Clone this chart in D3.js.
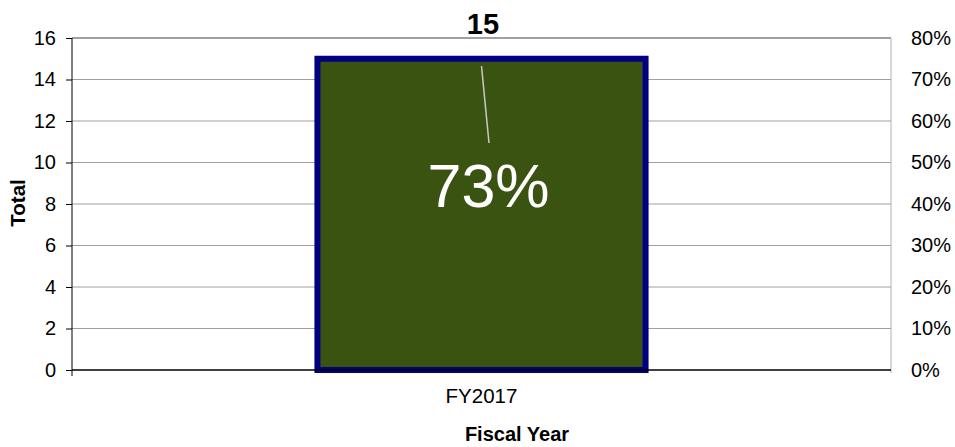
<!DOCTYPE html>
<html>
<head>
<meta charset="utf-8">
<script src="https://cdn.jsdelivr.net/npm/d3@7"></script>
<style>
  body { margin: 0; background: #fff; }
  svg { font-family: "Liberation Sans", Arial, sans-serif; }
</style>
</head>
<body>
<svg id="chart" width="955" height="447"></svg>
<script>
// chart data
const categories = ["FY2017"];
const totals = [15];
const percents = [0.73];
const leftTicks = [0, 2, 4, 6, 8, 10, 12, 14, 16];
const rightTicks = [0, 0.1, 0.2, 0.3, 0.4, 0.5, 0.6, 0.7, 0.8];

const margin = {top: 38, right: 64, bottom: 77, left: 72};
const width = 955 - margin.left - margin.right;
const height = 447 - margin.top - margin.bottom;

const svg = d3.select("#chart");
const g = svg.append("g").attr("transform", `translate(${margin.left},${margin.top})`);

const x = d3.scaleBand().domain(categories).range([0, width]).paddingInner(0).paddingOuter(0.748);
const y = d3.scaleLinear().domain([0, 16]).range([height, 0]);
const yRight = d3.scaleLinear().domain([0, 0.8]).range([height, 0]);

// gridlines
g.selectAll(".grid")
  .data(leftTicks.filter(d => d > 0))
  .join("line")
  .attr("x1", 0).attr("x2", width)
  .attr("y1", d => y(d)).attr("y2", d => y(d))
  .attr("stroke", d => d === 16 ? "#808080" : "#a0a0a0")
  .attr("stroke-width", d => d === 16 ? 1.5 : 1);

// right border / secondary axis line
g.append("line")
  .attr("x1", width).attr("x2", width)
  .attr("y1", 0).attr("y2", height + 3)
  .attr("stroke", "#b0b0b0");

// bars
g.selectAll(".bar")
  .data(categories)
  .join("rect")
  .attr("x", d => x(d))
  .attr("width", x.bandwidth())
  .attr("y", (d, i) => y(totals[i]))
  .attr("height", (d, i) => height - y(totals[i]))
  .attr("fill", "#3a5311")
  .attr("stroke", "#000080")
  .attr("stroke-width", 6);

// left axis
const leftAxis = g.append("g")
  .call(d3.axisLeft(y).tickValues(leftTicks).tickSize(6).tickPadding(10));
leftAxis.select(".domain").attr("stroke", "#000").attr("d", `M0,0V${height + 6}`);
leftAxis.selectAll(".tick line").attr("stroke", "#000");
leftAxis.selectAll("text").attr("font-size", 20).attr("fill", "#000");

// right axis labels
const rightAxis = g.append("g")
  .attr("transform", `translate(${width},0)`)
  .call(d3.axisRight(yRight).tickValues(rightTicks).tickFormat(d3.format(".0%")).tickSize(0).tickPadding(20));
rightAxis.select(".domain").remove();
rightAxis.selectAll("text").attr("font-size", 20).attr("fill", "#000");

// bottom axis line
g.append("line")
  .attr("x1", 0).attr("x2", width)
  .attr("y1", height).attr("y2", height)
  .attr("stroke", "#000").attr("stroke-width", 1.5);

g.selectAll(".cat")
  .data(categories)
  .join("text")
  .attr("x", d => x(d) + x.bandwidth() / 2)
  .attr("y", height + 33)
  .attr("text-anchor", "middle")
  .attr("font-size", 20.5)
  .text(d => d);

// total labels above bars
g.selectAll(".total")
  .data(categories)
  .join("text")
  .attr("x", d => x(d) + x.bandwidth() / 2 + 1.5)
  .attr("y", (d, i) => y(totals[i]) - 24.5)
  .attr("text-anchor", "middle")
  .attr("font-size", 29)
  .attr("font-weight", "bold")
  .text((d, i) => totals[i]);

// percentage labels with leader lines
categories.forEach((d, i) => {
  const cx = x(d) + x.bandwidth() / 2;
  const py = yRight(percents[i]);
  g.append("line")
    .attr("x1", cx).attr("y1", py - 1)
    .attr("x2", cx + 7.5).attr("y2", py + 76)
    .attr("stroke", "#c8c8c8").attr("stroke-width", 1.5);
  g.append("text")
    .attr("x", cx + 7)
    .attr("y", py + 140)
    .attr("text-anchor", "middle")
    .attr("font-size", 61)
    .attr("fill", "#fff")
    .text(d3.format(".0%")(percents[i]));
});

// axis titles
svg.append("text")
  .attr("transform", `translate(25,${margin.top + height / 2 - 1}) rotate(-90)`)
  .attr("text-anchor", "middle")
  .attr("font-size", 20.5)
  .attr("font-weight", "bold")
  .text("Total");

svg.append("text")
  .attr("x", 517)
  .attr("y", 441)
  .attr("text-anchor", "middle")
  .attr("font-size", 20)
  .attr("font-weight", "bold")
  .text("Fiscal Year");
</script>
</body>
</html>
